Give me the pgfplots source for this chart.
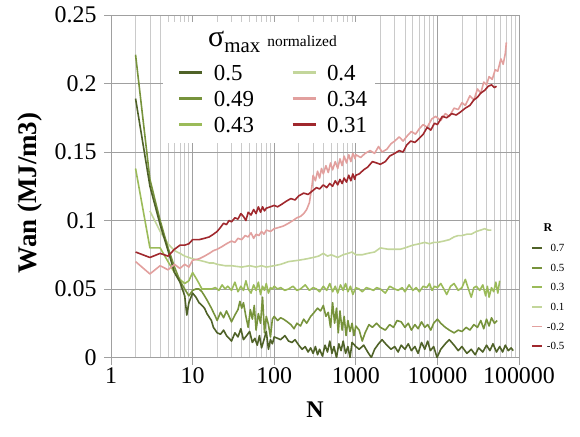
\documentclass[border=0pt]{standalone}
\usepackage{fontspec}
\setmainfont{Liberation Serif}
\usepackage{pgfplots}
\usepackage{pgfplotstable}
\pgfplotsset{compat=1.18}
\definecolor{gA}{HTML}{4F6228}
\definecolor{gB}{HTML}{77933C}
\definecolor{gC}{HTML}{9BBB59}
\definecolor{gD}{HTML}{C3D69B}
\definecolor{rE}{HTML}{E2A09E}
\definecolor{rF}{HTML}{A0282D}
\definecolor{majgrid}{HTML}{A0A0A0}
\definecolor{mingrid}{HTML}{CACACA}

\pgfplotstableread{
N W
2 0.189
3 0.125
4 0.097
5 0.078
6 0.062
7 0.055
8 0.045
8.5 0.031
9 0.040
10 0.047
11 0.044
12 0.040
13 0.038
14 0.036
15 0.032
17 0.027
18 0.022
20 0.018
22 0.017
24 0.020
26 0.016
28 0.014
30 0.012
33 0.018
36 0.015
39 0.021
42 0.013
46 0.016
50 0.019
54 0.011
58 0.014
62 0.009
66 0.016
70 0.007
75 0.013
80 0.019
85 0.006
90 0.013
95 0.010
100 0.015
110 0.014
120 0.013
135 0.016
150 0.012
165 0.011
180 0.013
200 0.009
220 0.006
240 0.008
260 0.004
280 0.007
300 0.003
320 0.008
340 0.002
360 0.006
390 0.001
420 0.009
450 0.004
480 0.012
510 0.003
540 0.008
580 0.000
620 0.010
660 0.005
700 0.012
750 0.003
800 0.008
850 0.000
900 0.011
1000 0.008
1100 0.006
1250 0.009
1400 0.004
1550 0.000
1700 0.006
1900 0.010
2100 0.013
2400 0.009
2700 0.006
3000 0.008
3300 0.004
3600 0.009
4000 0.006
4400 0.010
4800 0.005
5300 0.008
5800 0.003
6400 0.011
7000 0.006
7600 0.012
8200 0.005
9000 0.008
9900 0.000
11000 0.006
12500 0.010
14000 0.013
16000 0.009
18000 0.005
20000 0.008
23000 0.003
26000 0.006
29000 0.002
32000 0.007
36000 0.004
40000 0.009
44000 0.005
48000 0.010
53000 0.004
58000 0.008
63000 0.004
68000 0.009
74000 0.005
80000 0.007
85000 0.005
}\tA

\pgfplotstableread{
N W
2 0.221
3 0.130
4 0.100
5 0.080
6 0.066
7 0.056
8 0.050
9 0.045
10 0.049
11 0.050
12 0.050
13 0.048
14 0.045
15 0.042
17 0.036
19 0.030
20 0.027
22 0.033
24 0.029
26 0.034
28 0.030
30 0.026
33 0.031
36 0.035
38 0.041
40 0.036
42 0.040
45 0.030
48 0.022
51 0.035
54 0.028
57 0.038
60 0.020
64 0.032
68 0.025
72 0.044
76 0.018
80 0.030
85 0.024
90 0.015
95 0.028
100 0.030
110 0.027
120 0.029
130 0.028
145 0.026
160 0.024
175 0.021
190 0.025
210 0.023
230 0.028
250 0.025
280 0.030
310 0.033
340 0.036
370 0.034
400 0.038
430 0.030
460 0.033
490 0.022
520 0.040
550 0.025
580 0.036
610 0.018
640 0.034
680 0.020
720 0.030
760 0.016
800 0.027
850 0.019
900 0.025
950 0.016
1000 0.023
1100 0.020
1200 0.012
1300 0.018
1450 0.024
1600 0.022
1800 0.025
2000 0.022
2300 0.020
2600 0.024
2900 0.022
3200 0.027
3600 0.026
4000 0.022
4400 0.025
4800 0.020
5300 0.024
5800 0.021
6400 0.026
7000 0.022
7600 0.024
8300 0.020
9000 0.025
10000 0.028
11000 0.025
12500 0.022
14000 0.020
16000 0.018
18000 0.020
20000 0.019
22500 0.022
25000 0.020
28000 0.024
31000 0.022
34000 0.027
37000 0.021
40000 0.028
43000 0.023
46000 0.029
50000 0.025
54000 0.027
}\tB

\pgfplotstableread{
N W
2 0.138
3 0.080
4 0.080
5 0.070
6 0.062
7 0.057
8 0.054
9 0.056
10 0.062
11 0.058
12 0.054
13 0.050
15 0.050
17 0.050
19 0.051
21 0.049
23 0.053
25 0.050
27 0.052
30 0.049
33 0.055
36 0.048
39 0.052
42 0.049
45 0.056
48 0.050
52 0.047
56 0.053
60 0.049
64 0.055
68 0.046
72 0.052
76 0.049
80 0.054
85 0.047
90 0.051
95 0.050
100 0.052
110 0.050
120 0.051
135 0.049
150 0.050
170 0.052
190 0.049
210 0.050
240 0.053
270 0.049
300 0.051
330 0.050
360 0.048
400 0.052
440 0.049
480 0.054
520 0.048
560 0.052
600 0.047
650 0.053
700 0.049
750 0.054
800 0.048
860 0.052
920 0.046
1000 0.051
1100 0.050
1200 0.048
1350 0.051
1500 0.050
1650 0.049
1800 0.051
2000 0.050
2300 0.047
2600 0.052
3000 0.050
3300 0.049
3700 0.051
4000 0.048
4500 0.053
5000 0.049
5500 0.051
6000 0.048
6700 0.052
7400 0.051
8000 0.054
8600 0.049
9200 0.052
10000 0.051
11000 0.054
12000 0.050
13000 0.046
14500 0.052
16000 0.054
18000 0.049
20000 0.051
22000 0.057
24000 0.050
26000 0.044
28000 0.051
30000 0.052
33000 0.049
36000 0.053
39000 0.045
41000 0.052
43000 0.044
46000 0.051
49000 0.048
52000 0.055
55000 0.047
58000 0.056
}\tC

\pgfplotstableread{
N W
3 0.107
4 0.092
5 0.083
6 0.078
7 0.076
8 0.074
9 0.073
10 0.072
12 0.071
14 0.070
16 0.069
18 0.069
20 0.068
25 0.067
30 0.067
40 0.066
50 0.067
60 0.066
70 0.067
80 0.066
100 0.067
120 0.068
150 0.070
200 0.071
250 0.072
300 0.073
350 0.074
400 0.076
450 0.074
500 0.075
600 0.073
700 0.075
800 0.076
900 0.077
1000 0.075
1200 0.075
1400 0.076
1700 0.077
2000 0.080
2500 0.079
3000 0.079
3500 0.079
4000 0.080
5000 0.082
6000 0.083
7000 0.084
8000 0.083
9000 0.084
10000 0.084
12000 0.085
14000 0.086
16000 0.088
18000 0.089
20000 0.089
23000 0.090
26000 0.090
30000 0.092
34000 0.093
38000 0.094
42000 0.093
46000 0.093
}\tD

\pgfplotstableread{
N W
2 0.070
3 0.061
4 0.067
5 0.064
6 0.068
7 0.065
8 0.068
9 0.066
10 0.071
12 0.072
14 0.074
16 0.076
18 0.078
20 0.079
23 0.081
26 0.083
30 0.085
33 0.084
36 0.087
40 0.086
44 0.089
48 0.088
52 0.091
56 0.087
60 0.090
65 0.089
70 0.092
75 0.090
80 0.093
90 0.092
100 0.094
115 0.095
130 0.096
150 0.098
170 0.100
190 0.102
210 0.103
230 0.105
250 0.108
270 0.113
290 0.125
300 0.133
320 0.129
340 0.136
360 0.131
380 0.138
400 0.134
430 0.140
460 0.135
490 0.142
520 0.137
560 0.143
600 0.138
640 0.145
680 0.140
720 0.147
770 0.142
820 0.148
870 0.143
920 0.149
980 0.145
1000 0.148
1150 0.146
1300 0.149
1500 0.151
1700 0.149
1900 0.154
2100 0.150
2400 0.152
2700 0.156
3000 0.158
3400 0.161
3800 0.158
4300 0.162
4800 0.165
5400 0.163
6000 0.167
6700 0.170
7500 0.168
8500 0.174
9500 0.176
11000 0.173
12500 0.178
14000 0.176
16000 0.182
18000 0.181
20000 0.186
22000 0.184
25000 0.191
28000 0.188
31000 0.196
34000 0.193
37000 0.201
40000 0.199
43000 0.205
47000 0.203
51000 0.210
55000 0.209
60000 0.218
64000 0.214
68000 0.222
70000 0.230
}\tE

\pgfplotstableread{
N W
2 0.077
3 0.073
4 0.076
5 0.074
6 0.079
7 0.082
8 0.082
9 0.083
10 0.086
11 0.086
12 0.086
14 0.087
16 0.088
18 0.090
20 0.092
22 0.095
24 0.098
26 0.097
28 0.100
30 0.099
33 0.102
36 0.101
39 0.105
42 0.103
45 0.100
48 0.106
52 0.104
56 0.108
60 0.105
64 0.110
68 0.106
72 0.110
76 0.107
80 0.109
90 0.110
100 0.111
110 0.110
125 0.112
140 0.114
160 0.116
180 0.115
200 0.118
230 0.120
260 0.119
300 0.122
330 0.124
360 0.123
400 0.126
440 0.124
480 0.127
520 0.125
560 0.129
600 0.126
640 0.130
680 0.127
720 0.131
770 0.128
820 0.133
870 0.129
920 0.134
970 0.130
1000 0.133
1100 0.134
1250 0.137
1400 0.139
1600 0.143
1800 0.142
2000 0.141
2300 0.143
2600 0.147
3000 0.149
3400 0.151
3800 0.150
4200 0.155
4700 0.158
5300 0.157
6000 0.160
6700 0.163
7500 0.168
8300 0.166
9200 0.171
10000 0.170
11500 0.176
13000 0.175
15000 0.178
17000 0.177
19000 0.179
22000 0.182
25000 0.184
28000 0.188
31000 0.190
34000 0.193
38000 0.195
42000 0.198
46000 0.199
50000 0.197
53000 0.198
}\tF

\begin{document}
\begin{tikzpicture}
\path[use as bounding box] (-111bp,-79.5bp) rectangle (469bp,357.5bp);
\begin{axis}[
  at={(0,0)}, anchor=south west, scale only axis,
  width=408bp, height=342.5bp,
  xmode=log, log basis x=10,
  xmin=1, xmax=100000, ymin=0, ymax=0.25,
  xtick={1,10,100,1000,10000,100000},
  xticklabels={1,10,100,1000,10000,100000},
  minor xtick={2,3,4,5,6,7,8,9,20,30,40,50,60,70,80,90,200,300,400,500,600,700,800,900,2000,3000,4000,5000,6000,7000,8000,9000,20000,30000,40000,50000,60000,70000,80000,90000},
  ytick={0,0.05,0.1,0.15,0.2,0.25},
  yticklabels={0,0.05,0.1,0.15,0.2,0.25},
  xmajorgrids, ymajorgrids, xminorgrids,
  major grid style={draw=majgrid, line width=0.8bp},
  minor grid style={draw=mingrid, line width=0.8bp},
  axis line style={draw=majgrid, line width=0.8bp},
  tick align=outside, major tick length=7bp, minor tick length=0pt,
  tick style={draw=majgrid, line width=0.8bp},
  xtick pos=left, ytick pos=left,
  tick label style={font=\fontsize{24}{26}\selectfont},
  yticklabel style={xshift=-4bp},
  every axis plot/.append style={line width=1.6bp, line join=round},
  legend columns=2,
  legend cell align=left,
  legend image code/.code={\draw[#1, line width=3bp] (0bp,0bp) -- (23bp,0bp);},
  legend style={at={(rel axis cs:0.164,0.8604)}, anchor=north west, draw=none, fill=none,
    inner sep=0pt, outer sep=0pt,
    font=\fontsize{23}{26}\selectfont, row sep=6bp,
    nodes={inner sep=2bp, text height=16bp, text depth=0bp},
    /tikz/every odd column/.append style={column sep=8bp},
    /tikz/every even column/.append style={column sep=35bp}},
]
\fill[white] (rel axis cs:0.1275,0.6263) rectangle (rel axis cs:0.647,0.9796);
\addplot[gD, forget plot] table[x=N, y=W] {\tD};
\addplot[gC, forget plot] table[x=N, y=W] {\tC};
\addplot[gB, forget plot] table[x=N, y=W] {\tB};
\addplot[gA, forget plot] table[x=N, y=W] {\tA};
\addplot[rE, forget plot] table[x=N, y=W] {\tE};
\addplot[rF, forget plot] table[x=N, y=W] {\tF};
\addlegendimage{gA}\addlegendentry{0.5}
\addlegendimage{gD}\addlegendentry{0.4}
\addlegendimage{gB}\addlegendentry{0.49}
\addlegendimage{rE}\addlegendentry{0.34}
\addlegendimage{gC}\addlegendentry{0.43}
\addlegendimage{rF}\addlegendentry{0.31}
\end{axis}
\begin{axis}[
  at={(0,0)}, anchor=south west, scale only axis,
  width=408bp, height=342.5bp, hide axis,
  xmin=0, xmax=1, ymin=0, ymax=1,
  legend cell align=right,
  legend image code/.code={\draw[#1, line width=1.8bp] (0bp,0bp) -- (10bp,0bp);},
  legend style={at={(rel axis cs:1.022,0.3416)}, anchor=north west, draw=none, fill=none,
    font=\fontsize{11}{12}\selectfont, row sep=8.6bp,
    nodes={inner sep=1bp, text height=8bp, text depth=1bp},
    /tikz/every odd column/.append style={column sep=3bp}},
]
\addlegendimage{gA}\addlegendentry{0.7}
\addlegendimage{gB}\addlegendentry{0.5}
\addlegendimage{gC}\addlegendentry{0.3}
\addlegendimage{gD}\addlegendentry{0.1}
\addlegendimage{rE}\addlegendentry{-0.2}
\addlegendimage{rF}\addlegendentry{-0.5}
\end{axis}
\node[font=\bfseries\fontsize{12}{13}\selectfont] at (437bp,129.5bp) {R};
\node[anchor=base west, inner sep=0pt] at (97bp,310.5bp)
  {{\fontsize{30}{32}\selectfont σ}{\fontsize{21}{23}\selectfont\raisebox{-6bp}{max}}\hspace{7bp}{\fontsize{15.5}{17}\selectfont normalized}};
\node[rotate=90, font=\bfseries\fontsize{27}{29}\selectfont] at (-81bp,164.5bp) {Wan (MJ/m3)};
\node[font=\bfseries\fontsize{24}{26}\selectfont] at (204bp,-52.5bp) {N};
\end{tikzpicture}
\end{document}
